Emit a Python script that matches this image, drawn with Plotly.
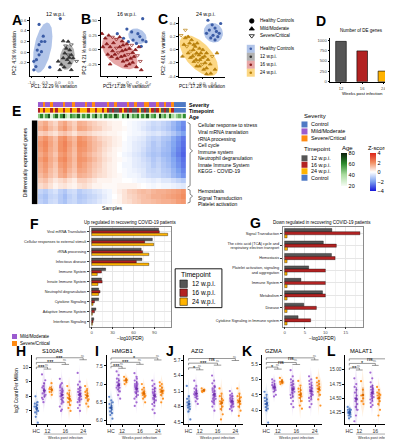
import numpy as np
import plotly.graph_objects as go

W, H = 393, 440
FONT = "Liberation Sans, Arial, Helvetica, sans-serif"

# ---------------- colours ----------------
C_HC_PT, C_12_PT, C_16_PT, C_24_PT = "#3B5CA6", "#333333", "#8B1C1C", "#B8800C"
F_HC, F_12, F_16, F_24 = ("rgba(130,162,220,0.62)", "rgba(125,125,125,0.6)",
                          "rgba(212,95,95,0.55)", "rgba(250,190,55,0.62)")
T12, T16, T24, TCTL = "#555555", "#B22222", "#FFB300", "#4E79C5"
S_CTL, S_MILD, S_SEV = "#4E79C5", "#9A5BCF", "#FF8A12"

# ---------------- data : PCA (A, B, C) ----------------
pca_a_hc_x = [-0.71, -0.62, -0.49, -0.55, -0.71, -0.78, -0.62, -0.71, -0.81, -0.91, -0.83, -0.91, -0.30, 0.10]
pca_a_hc_y = [0.52, 0.20, 0.20, 0.30, 0.14, 0.04, 0.01, -0.05, -0.14, -0.17, -0.27, -0.33, -0.28, 0.63]
pca_a_pt_x = [0.21, 0.40, 0.52, 0.33, 0.46, 0.27, 0.40, 0.52, 0.21, 0.36, 0.59, 0.72, 0.46, 0.14, 0.08, 0.52, 0.02, 0.30, 0.44, 0.25]
pca_a_pt_y = [0.21, 0.20, 0.14, 0.07, 0.04, -0.02, -0.05, -0.05, -0.11, -0.14, -0.11, -0.17, -0.20, -0.23, -0.33, -0.33, -0.17, 0.12, -0.10, -0.28]
pca_a_pt_sev = [0, 0, 1, 0, 0, 0, 1, 0, 0, 0, 0, 1, 0, 0, 0, 0, 0, 1, 0, 0]

pca_b_hc_x = [0.33, 0.00, 0.10, -0.20, 0.27, 0.33, 0.13, 0.03, 0.20, 0.40, 0.23, -0.07, 0.30]
pca_b_hc_y = [0.54, 0.36, 0.31, 0.28, 0.23, 0.17, 0.17, 0.14, 0.11, 0.14, 0.28, 0.20, 0.06]
pca_b_pt_x = [-0.45, -0.38, -0.30, -0.50, -0.42, -0.35, -0.28, -0.22, -0.15, -0.10, -0.30, -0.22, -0.15, -0.08, 0.00,
              -0.40, -0.32, -0.25, -0.18, -0.10, -0.03, 0.05, 0.10, -0.20, -0.12, -0.05, 0.03, 0.12, 0.18, -0.08,
              0.00, 0.08, 0.15, 0.22, -0.02, 0.05, 0.12, 0.20, 0.28, -0.52, 0.25, -0.35, 0.30]
pca_b_pt_y = [0.20, 0.25, 0.22, 0.05, 0.10, 0.05, 0.12, 0.18, 0.22, 0.15, -0.02, 0.03, 0.05, 0.08, 0.10,
              -0.08, -0.12, -0.08, -0.05, -0.02, 0.00, 0.02, 0.08, -0.15, -0.12, -0.10, -0.08, -0.05, 0.00, -0.20,
              -0.18, -0.15, -0.12, -0.10, -0.28, -0.25, -0.22, -0.30, -0.20, 0.28, 0.05, -0.25, -0.35]
pca_b_pt_sev = [0, 0, 1, 0, 0, 0, 0, 1, 0, 0, 0, 1, 0, 0, 0, 0, 0, 0, 1, 0, 0, 0, 1, 0, 0, 0, 1, 0, 0, 0,
                0, 0, 0, 1, 0, 0, 0, 0, 1, 0, 0, 0, 0]

pca_c_hc_x = [0.20, 0.35, 0.45, 0.25, 0.50, 0.15, 0.38, 0.55, 0.30, 0.45, 0.60, 0.65]
pca_c_hc_y = [0.45, 0.38, 0.33, 0.30, 0.28, 0.25, 0.22, 0.20, 0.18, 0.15, 0.25, 0.40]
pca_c_pt_x = [-0.75, -0.60, -0.50, -0.65, -0.55, -0.45, -0.38, -0.30, -0.50, -0.40, -0.32, -0.25, -0.18, -0.10, -0.42,
              -0.35, -0.28, -0.20, -0.12, -0.05, 0.02, -0.30, -0.22, -0.15, -0.08, 0.00, 0.08, 0.15, -0.20, -0.10,
              0.00, 0.10, 0.20, 0.05, 0.15, 0.28, 0.35, 0.45, 0.15, 0.30, -0.70, 0.52, -0.60]
pca_c_pt_y = [0.22, 0.18, 0.20, 0.08, 0.05, 0.10, 0.15, 0.08, -0.05, -0.02, 0.00, 0.05, 0.10, 0.02, -0.12,
              -0.10, -0.08, -0.05, -0.08, -0.05, 0.00, -0.18, -0.15, -0.18, -0.15, -0.12, -0.10, -0.05, -0.25, -0.25,
              -0.22, -0.20, -0.15, -0.30, -0.28, -0.22, -0.10, -0.30, -0.37, -0.36, -0.10, -0.05, 0.30]
pca_c_pt_sev = [1, 0, 0, 0, 1, 0, 0, 0, 0, 1, 0, 0, 0, 0, 0, 0, 1, 0, 0, 0, 0, 0, 0, 1, 0, 0, 0, 0, 0, 0,
                1, 0, 0, 0, 0, 0, 1, 0, 0, 0, 0, 0, 1]

# confidence ellipses: centre x, centre y, half-width, half-height, tilt
ell_a_hc = [-0.57, 0.085, 0.37, 0.47, 0.45]
ell_a_pt = [0.365, -0.095, 0.285, 0.235, 0.2]
ell_b_hc = [0.22, 0.235, 0.19, 0.135, -0.2]
ell_b_pt = [-0.15, -0.055, 0.37, 0.285, -0.5]
ell_c_hc = [0.39, 0.26, 0.34, 0.15, -0.1]
ell_c_pt = [-0.12, -0.09, 0.68, 0.31, -0.6]

# ---------------- data : D ----------------
de_weeks = ["12", "16", "24"]
de_counts = [975, 745, 255]

# ---------------- data : E heatmap ----------------
e_rows = [
    [1.2, 1.5, 1.0, 0.7, 1.3, 1.6, 1.1, 0.8, 1.4, 1.3, 1.0, 0.8, 0.6, 0.5, 0.3, 0.2, 0.2, 0.0, -0.1, -0.2, -0.3, -0.4, -0.6, -0.8, -0.7, -0.9, -1.1, -1.5, -1.9, -2.3],
    [1.4, 1.7, 1.2, 0.9, 1.5, 1.8, 1.3, 0.9, 1.6, 1.5, 1.2, 0.9, 0.8, 0.5, 0.4, 0.2, 0.2, 0.1, -0.1, -0.2, -0.3, -0.5, -0.7, -0.9, -0.8, -1.0, -1.2, -1.6, -2.0, -2.4],
    [0.8, 1.0, 0.7, 0.5, 0.9, 1.1, 0.8, 0.5, 0.9, 0.9, 0.7, 0.5, 0.4, 0.3, 0.2, 0.2, 0.1, 0.0, -0.1, -0.2, -0.2, -0.3, -0.5, -0.6, -0.5, -0.7, -0.9, -1.2, -1.6, -2.0],
    [1.6, 1.9, 1.5, 1.1, 1.8, 2.0, 1.5, 1.2, 1.9, 1.7, 1.4, 1.1, 0.8, 0.6, 0.5, 0.3, 0.2, 0.0, -0.2, -0.3, -0.4, -0.5, -0.8, -1.0, -0.9, -1.2, -1.3, -1.8, -2.2, -2.6],
    [1.8, 2.1, 1.6, 1.2, 1.9, 2.2, 1.7, 1.3, 2.0, 1.9, 1.5, 1.2, 1.0, 0.7, 0.5, 0.3, 0.2, -0.1, -0.2, -0.4, -0.5, -0.6, -0.9, -1.2, -1.0, -1.3, -1.5, -1.9, -2.3, -2.7],
    [1.7, 2.0, 1.5, 1.2, 1.9, 2.1, 1.6, 1.2, 1.9, 1.8, 1.5, 1.2, 0.9, 0.6, 0.4, 0.2, 0.1, -0.1, -0.2, -0.4, -0.5, -0.7, -1.0, -1.2, -1.1, -1.4, -1.5, -2.0, -2.4, -2.8],
    [1.5, 1.8, 1.4, 1.0, 1.7, 1.9, 1.5, 1.1, 1.8, 1.6, 1.3, 1.0, 0.8, 0.5, 0.3, 0.2, 0.0, -0.2, -0.3, -0.5, -0.6, -0.8, -1.1, -1.3, -1.2, -1.5, -1.6, -2.1, -2.5, -2.9],
    [1.7, 2.0, 1.5, 1.2, 1.9, 2.1, 1.6, 1.2, 1.9, 1.8, 1.5, 1.2, 0.9, 0.6, 0.4, 0.2, 0.1, -0.1, -0.2, -0.4, -0.5, -0.7, -0.9, -1.2, -1.0, -1.3, -1.5, -1.9, -2.3, -2.7],
    [1.5, 1.8, 1.4, 1.0, 1.7, 1.9, 1.5, 1.1, 1.8, 1.6, 1.3, 1.0, 0.8, 0.5, 0.3, 0.2, 0.0, -0.2, -0.2, -0.4, -0.5, -0.6, -0.8, -1.1, -0.9, -1.2, -1.4, -1.8, -2.2, -2.6],
    [1.4, 1.7, 1.2, 0.9, 1.5, 1.8, 1.3, 1.0, 1.6, 1.5, 1.2, 0.9, 0.7, 0.5, 0.3, 0.2, 0.0, -0.1, -0.2, -0.3, -0.4, -0.5, -0.8, -0.9, -0.8, -1.1, -1.2, -1.6, -2.0, -2.4],
    [1.2, 1.5, 1.1, 0.8, 1.4, 1.6, 1.1, 0.8, 1.4, 1.3, 1.1, 0.8, 0.6, 0.5, 0.3, 0.2, 0.1, -0.1, -0.2, -0.2, -0.3, -0.5, -0.7, -0.8, -0.8, -1.0, -1.1, -1.5, -1.8, -2.2],
    [0.9, 1.1, 0.7, 0.4, 0.6, 0.8, 0.5, 0.3, 0.8, 0.8, 0.6, 0.4, 0.2, 0.2, 0.2, 0.1, 0.1, 0.0, 0.0, -0.1, -0.2, -0.2, -0.3, -0.4, -0.3, -0.5, -0.5, -0.7, -0.9, -1.1],
    [0.6, 0.8, 0.5, 0.2, 0.4, 0.5, 0.3, 0.2, 0.5, 0.6, 0.4, 0.2, 0.2, 0.1, 0.1, 0.1, 0.2, 0.2, 0.2, 0.2, 0.1, 0.0, -0.1, -0.2, -0.1, -0.2, -0.2, -0.3, -0.4, -0.5],
    [-0.9, -1.1, -0.8, -0.6, -1.0, -1.2, -0.8, -0.7, -1.1, -0.9, -0.8, -0.6, -0.5, -0.3, -0.2, 0.1, 0.3, 0.5, 0.8, 0.9, 1.1, 1.2, 1.1, 1.3, 1.4, 1.4, 1.5, 1.6, 1.7, 1.9],
    [-1.1, -1.3, -0.9, -0.8, -1.1, -1.4, -1.0, -0.8, -1.2, -1.1, -0.9, -0.8, -0.6, -0.4, -0.2, 0.0, 0.2, 0.5, 0.7, 0.8, 1.0, 1.1, 1.2, 1.4, 1.4, 1.5, 1.6, 1.7, 1.8, 2.0],
    [-1.0, -1.2, -0.8, -0.7, -1.1, -1.3, -0.9, -0.8, -1.1, -1.0, -0.8, -0.7, -0.5, -0.3, -0.2, 0.1, 0.2, 0.5, 0.6, 0.8, 0.9, 1.1, 1.1, 1.2, 1.3, 1.4, 1.4, 1.5, 1.7, 1.8],
]
# sample annotations (0 control, 1 mild/moderate, 2 severe/critical) ; (0 12, 1 16, 2 24 w.p.i., 3 control)
e_severity = [1, 1, 2, 1, 1, 2, 1, 1, 1, 1, 2, 1, 1, 1, 2, 1, 1, 1, 1, 2, 1, 1, 2, 1, 1, 1, 1, 1, 2, 1,
              1, 2, 1, 1, 1, 1, 2, 1, 1, 2, 1, 1, 1, 2, 2, 1, 1, 1, 2, 1, 1, 2, 1, 1, 2, 0, 0, 0, 0, 0]
e_timepoint = [1, 2, 1, 2, 2, 1, 2, 1, 2, 2, 1, 2, 2, 1, 2, 2, 1, 2, 2, 2, 1, 2, 2, 1, 2, 2, 1, 2, 1, 0,
               1, 0, 0, 1, 2, 1, 0, 1, 0, 0, 1, 2, 0, 1, 0, 2, 1, 0, 1, 2, 0, 1, 0, 2, 1, 3, 3, 3, 3, 3]
e_age = [45, 62, 38, 55, 70, 28, 50, 66, 34, 58, 75, 42, 30, 60, 52, 48, 68, 36, 57, 44, 63, 29, 51, 72, 40, 55, 33, 65, 47, 58,
         39, 70, 53, 26, 61, 45, 77, 35, 56, 49, 64, 31, 58, 43, 69, 37, 52, 60, 27, 74, 46, 57, 33, 66, 41, 30, 45, 52, 38, 60]
e_up_terms = ["Cellular response to stress", "Viral mRNA translation", "rRNA processing", "Cell cycle",
              "Immune system", "Neutrophil degranulation", "Innate Immune System", "KEGG - COVID-19"]
e_down_terms = ["Hemostasis", "Signal Transduction", "Platelet activation"]

# ---------------- data : F / G ----------------
f_terms = ["Viral mRNA Translation", "Cellular responses to external stimuli", "rRNA processing", "Infectious disease",
           "Immune System", "Innate Immune System", "Neutrophil degranulation", "Cytokine Signaling",
           "Adaptive Immune System", "Interferon Signaling"]
f_12 = [96, 87, 71, 72, 20, 14, 10, 10, 6, 3]
f_16 = [97, 76, 73, 64, 14, 15, 12, 4, 4, 2]
f_24 = [109, 89, 82, 82, 8, 9, 10, 2, 1, 1]
g_terms = ["Signal Transduction", "The citric acid (TCA) cycle and<br>respiratory electron transport", "Hemostasis",
           "Platelet activation, signaling<br>and aggregation", "Immune System", "Metabolism", "Disease",
           "Cytokine Signaling in Immune system"]
g_12 = [11.6, 9.5, 11.5, 5.9, 4.0, 9.3, 4.7, 3.3]
g_16 = [18.5, 12.7, 12.4, 10.0, 10.0, 10.0, 7.8, 6.4]
g_24 = [0.6, 0.7, 0.6, 0.6, 0.6, 0.6, 0.6, 0.6]

# ---------------- data : H-L (log2 CPM) ----------------
s100a8_hc = [7.3, 7.1, 7.5, 7.2, 6.9, 7.4, 8.0, 7.6, 6.6, 6.2, 7.3, 7.0]
s100a8_12m = [9.5, 8.9, 8.6, 8.3, 8.2, 8.0, 7.8, 8.4, 8.7, 9.1, 7.6, 8.1, 8.5, 7.9]
s100a8_12s = [8.5, 8.9, 8.3, 8.1, 8.6, 8.4]
s100a8_16m = [9.2, 8.9, 8.7, 8.5, 8.4, 8.3, 8.2, 8.1, 8.0, 7.9, 7.8, 7.6, 7.5, 7.3, 7.1, 8.6, 8.3, 8.0, 7.7, 8.8, 8.4, 7.0]
s100a8_16s = [8.7, 8.4, 8.2, 8.0, 7.9, 7.8, 7.6, 7.4, 7.2, 7.0, 8.1, 7.7]
s100a8_24m = [9.6, 9.0, 8.8, 8.6, 8.5, 8.4, 8.3, 8.2, 8.1, 8.0, 7.9, 7.8, 7.7, 7.6, 7.4, 7.2, 7.0, 8.3, 8.0, 7.8, 8.6, 8.1]
s100a8_24s = [8.7, 8.5, 8.3, 8.2, 8.1, 8.0, 7.9, 7.7, 7.5, 7.3, 8.4, 7.8]

hmgb1_hc = [6.65, 6.55, 6.45, 6.4, 6.35, 6.3, 6.25, 6.2, 6.15, 6.05, 6.35, 6.5]
hmgb1_12m = [7.35, 7.25, 7.15, 7.1, 7.05, 7.0, 6.95, 6.9, 6.85, 6.8, 6.7, 6.6, 7.0, 6.9]
hmgb1_12s = [7.2, 7.15, 7.1, 7.05, 7.0, 7.12]
hmgb1_16m = [7.3, 7.2, 7.1, 7.05, 7.0, 6.95, 6.9, 6.88, 6.85, 6.8, 6.75, 6.7, 6.65, 6.6, 6.5, 6.4, 7.15, 6.95, 6.85, 6.78, 7.0, 6.92]
hmgb1_16s = [7.0, 6.9, 6.85, 6.8, 6.75, 6.72, 6.7, 6.65, 6.6, 6.5, 6.78, 6.68]
hmgb1_24m = [7.1, 7.0, 6.95, 6.9, 6.85, 6.8, 6.75, 6.72, 6.7, 6.65, 6.6, 6.55, 6.5, 6.45, 6.4, 6.3, 6.2, 6.78, 6.68, 6.62, 6.88, 6.58]
hmgb1_24s = [7.05, 7.0, 6.95, 6.9, 6.85, 6.8, 6.78, 6.75, 6.7, 6.6, 6.5, 6.82]

azi2_hc = [5.2, 5.0, 4.95, 4.9, 4.88, 4.85, 4.82, 4.8, 4.78, 4.75, 4.7, 4.55]
azi2_12m = [5.3, 5.2, 5.15, 5.1, 5.08, 5.05, 5.02, 5.0, 4.98, 4.95, 4.9, 4.85, 5.12, 5.04]
azi2_12s = [5.15, 5.12, 5.1, 5.1, 5.08, 5.13]
azi2_16m = [5.4, 5.3, 5.25, 5.2, 5.15, 5.1, 5.08, 5.05, 5.02, 5.0, 4.98, 4.95, 4.92, 4.9, 4.85, 4.8, 4.72, 5.12, 5.0, 4.95, 5.18, 4.88]
azi2_16s = [5.15, 5.05, 5.0, 4.95, 4.9, 4.88, 4.85, 4.8, 4.75, 4.65, 4.55, 4.92]
azi2_24m = [5.1, 5.05, 5.02, 5.0, 4.98, 4.95, 4.92, 4.9, 4.88, 4.85, 4.82, 4.8, 4.78, 4.75, 4.72, 4.95, 5.0, 4.9, 4.85, 4.92, 4.88, 4.8]
azi2_24s = [5.15, 5.05, 5.0, 4.95, 4.92, 4.9, 4.88, 4.85, 4.8, 4.72, 4.62, 4.98]

gzma_hc = [4.6, 4.5, 4.4, 4.35, 4.3, 4.25, 4.2, 4.15, 4.1, 4.05, 4.0, 3.6]
gzma_12m = [5.0, 4.95, 4.9, 4.85, 4.8, 4.78, 4.75, 4.72, 4.7, 4.65, 4.6, 4.5, 4.45, 4.82]
gzma_12s = [5.05, 4.98, 4.92, 4.88, 4.85, 4.9]
gzma_16m = [5.3, 5.1, 5.0, 4.95, 4.9, 4.85, 4.8, 4.75, 4.72, 4.7, 4.65, 4.6, 4.55, 4.5, 4.45, 4.4, 4.3, 4.2, 4.1, 4.82, 4.68, 4.58]
gzma_16s = [4.95, 4.8, 4.7, 4.65, 4.6, 4.55, 4.5, 4.45, 4.4, 4.3, 4.15, 4.05]
gzma_24m = [5.1, 5.0, 4.95, 4.9, 4.85, 4.8, 4.75, 4.7, 4.65, 4.6, 4.55, 4.5, 4.45, 4.4, 4.35, 4.3, 4.2, 4.1, 4.72, 4.62, 4.52, 4.68]
gzma_24s = [5.05, 4.95, 4.9, 4.85, 4.8, 4.75, 4.7, 4.65, 4.6, 4.5, 4.35, 4.15]

malat1_hc = [14.35, 14.32, 14.3, 14.28, 14.26, 14.25, 14.24, 14.22, 14.2, 14.18, 14.15, 14.3]
malat1_12m = [14.85, 14.75, 14.7, 14.65, 14.6, 14.55, 14.5, 14.48, 14.45, 14.4, 14.35, 14.3, 14.2, 14.1]
malat1_12s = [14.8, 14.65, 14.55, 14.5, 14.45, 14.4]
malat1_16m = [14.95, 14.85, 14.78, 14.72, 14.7, 14.68, 14.65, 14.62, 14.6, 14.58, 14.55, 14.52, 14.5, 14.48, 14.45, 14.42, 14.38, 14.35, 14.62, 14.57, 14.66, 14.53]
malat1_16s = [14.7, 14.65, 14.6, 14.58, 14.55, 14.52, 14.5, 14.45, 14.4, 14.3, 14.2, 14.56]
malat1_24m = [14.85, 14.75, 14.7, 14.65, 14.6, 14.58, 14.55, 14.52, 14.5, 14.48, 14.45, 14.42, 14.4, 14.38, 14.35, 14.3, 14.62, 14.5, 14.46, 14.56, 14.44, 14.52]
malat1_24s = [14.75, 14.68, 14.62, 14.6, 14.58, 14.55, 14.52, 14.5, 14.45, 14.4, 14.35, 14.3]

sig_s100a8 = ["***", "***", "***"]
sig_hmgb1 = ["***", "***", "*"]
sig_azi2 = ["*", "***", "ns"]
sig_gzma = ["*", "ns", "ns"]
sig_malat1 = ["**", "*", "ns"]
strip_ticks = ["HC", "12", "16", "24"]

# ====================================================================
fig = go.Figure()
LAY = {}
ANN = []
SHP = []


def axes(i, box):
    x0, x1, y0, y1 = box
    xk = "xaxis" if i == 1 else f"xaxis{i}"
    yk = "yaxis" if i == 1 else f"yaxis{i}"
    xr = "x" if i == 1 else f"x{i}"
    yr = "y" if i == 1 else f"y{i}"
    LAY[xk] = dict(domain=[x0 / W, x1 / W], anchor=yr)
    LAY[yk] = dict(domain=[1 - y1 / H, 1 - y0 / H], anchor=xr)
    return xk, yk, xr, yr


def txt(x, y, s, size=5, xa="center", ya="middle", color="#000", angle=0, bold=False, xref="x16", yref="y16"):
    ANN.append(dict(x=x, y=y, xref=xref, yref=yref, text=f"<b>{s}</b>" if bold else s, showarrow=False,
                    xanchor=xa, yanchor=ya, textangle=angle, font=dict(size=size, color=color, family=FONT)))


CL = dict(showline=True, linecolor="black", linewidth=0.6, ticks="outside", ticklen=2, tickwidth=0.5,
          tickcolor="black", showgrid=False, zeroline=False, tickfont=dict(size=4.2, color="#4D4D4D"))


def ellipse(p, n=80):
    cx, cy, sx, sy, rho = p
    t = np.linspace(0, 2 * np.pi, n)
    return cx + sx * np.cos(t), cy + sy * (rho * np.cos(t) + np.sqrt(1 - rho ** 2) * np.sin(t))


# ---------------- A, B, C ----------------
pca_panels = [
    (1, (20, 69, 9, 68), [-1.06, 0.8], [-0.44, 0.66], [-1.0, -0.5, 0.0, 0.5], ["-1.0", "-0.5", "0.0", "0.5"],
     [-0.2, 0.0, 0.2, 0.4, 0.6], ["-0.2", "0.0", "0.2", "0.4", "0.6"],
     pca_a_hc_x, pca_a_hc_y, pca_a_pt_x, pca_a_pt_y, pca_a_pt_sev, ell_a_hc, ell_a_pt, F_12, C_12_PT),
    (2, (91, 143, 9, 68), [-0.55, 0.53], [-0.45, 0.57], [-0.4, -0.2, 0.0, 0.2, 0.4], ["-0.4", "-0.2", "0.0", "0.2", "0.4"],
     [-0.25, 0.0, 0.25, 0.5], ["-0.25", "0.00", "0.25", "0.50"],
     pca_b_hc_x, pca_b_hc_y, pca_b_pt_x, pca_b_pt_y, pca_b_pt_sev, ell_b_hc, ell_b_pt, F_16, C_16_PT),
    (3, (170, 216, 9, 69), [-0.82, 0.8], [-0.41, 0.5], [-0.4, 0.0, 0.4], ["-0.4", "0.0", "0.4"],
     [-0.4, -0.2, 0.0, 0.2, 0.4], ["-0.4", "-0.2", "0.0", "0.2", "0.4"],
     pca_c_hc_x, pca_c_hc_y, pca_c_pt_x, pca_c_pt_y, pca_c_pt_sev, ell_c_hc, ell_c_pt, F_24, C_24_PT),
]
for (i, box, xrng, yrng, xtv, xtt, ytv, ytt, hx, hy, px, py, ps, ehc, ept, fcol, pcol) in pca_panels:
    xk, yk, xr, yr = axes(i, box)
    LAY[xk].update(CL, range=xrng, tickvals=xtv, ticktext=xtt)
    LAY[yk].update(CL, range=yrng, tickvals=ytv, ticktext=ytt)
    for ep, fc in ((ehc, F_HC), (ept, fcol)):
        ex, ey = ellipse(ep)
        fig.add_trace(go.Scatter(x=ex, y=ey, mode="lines", fill="toself", fillcolor=fc, line=dict(width=0),
                                 hoverinfo="skip", xaxis=xr, yaxis=yr))
    fig.add_trace(go.Scatter(x=hx, y=hy, mode="markers", marker=dict(symbol="circle", size=3.2, color=C_HC_PT),
                             xaxis=xr, yaxis=yr, hoverinfo="skip", cliponaxis=False))
    sym = ["triangle-down-open" if s else "triangle-up" for s in ps]
    fig.add_trace(go.Scatter(x=px, y=py, mode="markers",
                             marker=dict(symbol=sym, size=3.4, color=pcol, line=dict(width=0.7, color=pcol)),
                             xaxis=xr, yaxis=yr, hoverinfo="skip", cliponaxis=False))

# ---------------- D ----------------
xk, yk, xr, yr = axes(4, (322, 386, 30, 74))
fig.add_trace(go.Bar(x=de_weeks, y=de_counts, marker=dict(color=[T12, T16, T24], line=dict(color="black", width=0.6)),
                     width=0.5, xaxis=xr, yaxis=yr, hoverinfo="skip"))
LAY[xk].update(CL, type="category")
LAY[yk].update(CL, range=[0, 1060], tickvals=[0, 250, 500, 750, 1000])

# ---------------- E ----------------
Z_SCALE = [[0, "#1616D9"], [0.25, "#7EA2F0"], [0.5, "#FFFFFF"], [0.75, "#F28D60"], [1, "#DD2418"]]
AGE_SCALE = [[0, "#F5FCF3"], [0.35, "#A8DB9C"], [0.68, "#2C8A2C"], [1, "#0A1E0A"]]


def disc(cols):
    n = len(cols)
    cs = []
    for k, c in enumerate(cols):
        cs += [[k / n, c], [(k + 1) / n, c]]
    return cs


xk, yk, xr, yr = axes(5, (28, 177, 113, 197))
fig.add_trace(go.Heatmap(z=e_rows, zmin=-4, zmax=4, colorscale=Z_SCALE, xaxis=xr, yaxis=yr, hoverinfo="skip",
                         colorbar=dict(x=362 / W, xanchor="left", y=1 - 146 / H, yanchor="top", len=38,
                                       lenmode="pixels", thickness=6, thicknessmode="pixels", outlinewidth=0,
                                       xpad=0, ypad=0, tickvals=[-4, -2, 0, 2, 4], ticktext=["−4", "−2", "0", "2", "4"],
                                       tickfont=dict(size=5.5, family=FONT))))
LAY[xk].update(visible=False, range=[-0.5, len(e_rows[0]) - 0.5])
LAY[yk].update(visible=False, autorange="reversed")

bar_specs = [(6, (28, 177, 94.5, 99.5), e_severity, disc([S_CTL, S_MILD, S_SEV]), -0.5, 2.5),
             (7, (28, 177, 100.3, 105.3), e_timepoint, disc([T12, T16, T24, TCTL]), -0.5, 3.5)]
for i, box, vals, cs, lo, hi in bar_specs:
    xk, yk, xr, yr = axes(i, box)
    fig.add_trace(go.Heatmap(z=[vals], colorscale=cs, zmin=lo, zmax=hi, showscale=False, xaxis=xr, yaxis=yr,
                             hoverinfo="skip"))
    LAY[xk].update(visible=False, range=[-0.5, len(vals) - 0.5])
    LAY[yk].update(visible=False)
xk, yk, xr, yr = axes(8, (28, 177, 106.1, 111.1))
fig.add_trace(go.Heatmap(z=[e_age], colorscale=AGE_SCALE, zmin=20, zmax=80, xaxis=xr, yaxis=yr, hoverinfo="skip",
                         colorbar=dict(x=333 / W, xanchor="left", y=1 - 146 / H, yanchor="top", len=33,
                                       lenmode="pixels", thickness=6, thicknessmode="pixels", outlinewidth=0,
                                       xpad=0, ypad=0, tickvals=[20, 40, 60, 80],
                                       tickfont=dict(size=5.5, family=FONT))))
LAY[xk].update(visible=False, range=[-0.5, len(e_age) - 0.5])
LAY[yk].update(visible=False)

# ---------------- F, G ----------------
GRID = dict(showline=True, mirror=True, linecolor="#8C8C8C", linewidth=0.5, ticks="outside", ticklen=2,
            tickwidth=0.5, tickcolor="#333", showgrid=True, gridcolor="#E6E6E6", gridwidth=0.5, zeroline=False,
            tickfont=dict(size=4.3, color="#4D4D4D"))
for i, box, terms, v12, v16, v24, xrng, dt in [(9, (80, 162, 220, 320), f_terms, f_12, f_16, f_24, [-3, 114], 30),
                                               (10, (274, 355, 220, 320), g_terms, g_12, g_16, g_24, [-0.5, 19.3], 5)]:
    xk, yk, xr, yr = axes(i, box)
    for vals, col in ((v12, T12), (v16, T16), (v24, T24)):
        fig.add_trace(go.Bar(y=terms, x=vals, orientation="h", marker=dict(color=col, line=dict(color="black", width=0.35)),
                             xaxis=xr, yaxis=yr, hoverinfo="skip"))
    LAY[xk].update(GRID, range=xrng, dtick=dt, tick0=0,
                   minor=dict(showgrid=True, gridcolor="#F2F2F2", gridwidth=0.5, dtick=dt / 2, tick0=0))
    LAY[yk].update(GRID, type="category", categoryorder="array", categoryarray=terms, autorange="reversed",
                   tickfont=dict(size=3.8, color="#222"))

# ---------------- H - L ----------------
POS = [0.0, 1.0, 2.0, 3.4, 4.4, 5.8, 6.8]
PAIR = [(1.0, 2.0), (3.4, 4.4), (5.8, 6.8)]
GCOL = [S_CTL, S_MILD, S_SEV, S_MILD, S_SEV, S_MILD, S_SEV]
GDARK = ["#2C52A0", "#6E2FA8", "#D96A00", "#6E2FA8", "#D96A00", "#6E2FA8", "#D96A00"]
GFILL = ["rgba(78,121,197,0.13)", "rgba(154,91,207,0.13)", "rgba(255,138,18,0.13)",
         "rgba(154,91,207,0.13)", "rgba(255,138,18,0.13)", "rgba(154,91,207,0.13)", "rgba(255,138,18,0.13)"]
SY0, SY1 = 349, 418
genes = [
    (11, (22, 81, SY0, SY1), "H", "S100A8", (11, 30),
     [s100a8_hc, s100a8_12m, s100a8_12s, s100a8_16m, s100a8_16s, s100a8_24m, s100a8_24s],
     [6.1, 10.8], [7, 8, 9, 10], ["7", "8", "9", "10"], [10.0, 10.32, 10.64], sig_s100a8),
    (12, (97, 156, SY0, SY1), "I", "HMGB1", (87, 101),
     [hmgb1_hc, hmgb1_12m, hmgb1_12s, hmgb1_16m, hmgb1_16s, hmgb1_24m, hmgb1_24s],
     [5.9, 7.79], [6.0, 6.5, 7.0, 7.5], ["6.0", "6.5", "7.0", "7.5"], [7.49, 7.6, 7.72], sig_hmgb1),
    (13, (175, 234, SY0, SY1), "J", "AZI2", (161, 180),
     [azi2_hc, azi2_12m, azi2_12s, azi2_16m, azi2_16s, azi2_24m, azi2_24s],
     [4.46, 5.79], [4.5, 4.8, 5.1, 5.4, 5.7], ["4.5", "4.8", "5.1", "5.4", "5.7"], [5.55, 5.64, 5.73], sig_azi2),
    (14, (253, 314, SY0, SY1), "K", "GZMA", (238, 254),
     [gzma_hc, gzma_12m, gzma_12s, gzma_16m, gzma_16s, gzma_24m, gzma_24s],
     [3.55, 5.78], [4.0, 4.5, 5.0, 5.5], ["4.0", "4.5", "5.0", "5.5"], [5.4, 5.55, 5.7], sig_gzma),
    (15, (337, 390, SY0, SY1), "L", "MALAT1", (323, 340),
     [malat1_hc, malat1_12m, malat1_12s, malat1_16m, malat1_16s, malat1_24m, malat1_24s],
     [14.05, 15.25], [14.25, 14.5, 14.75, 15.0], ["14.25", "14.50", "14.75", "15.00"], [15.03, 15.11, 15.19], sig_malat1),
]
for i, box, letter, gname, (lx, gx), groups, yrng, ytv, ytt, lev, sig in genes:
    xk, yk, xr, yr = axes(i, box)
    LAY[xk].update(CL, range=[-0.6, 7.3], tickvals=[0, 1.5, 3.9, 6.3], ticktext=strip_ticks,
                   tickfont=dict(size=5.2, color="#333"))
    LAY[yk].update(CL, range=yrng, tickvals=ytv, ticktext=ytt, tickfont=dict(size=4.8, color="#333"))
    for g, vals in enumerate(groups):
        n = len(vals)
        fig.add_trace(go.Violin(x=[POS[g]] * n, y=vals, width=0.9, fillcolor=GFILL[g], line=dict(width=0),
                                points=False, hoverinfo="skip", xaxis=xr, yaxis=yr, spanmode="soft"))
        jit = [(((k * 7) % 13) - 6) * 0.04 for k in range(n)]
        fig.add_trace(go.Scatter(x=[POS[g] + j for j in jit], y=vals, mode="markers",
                                 marker=dict(size=2.2, color=GCOL[g], opacity=0.9), xaxis=xr, yaxis=yr,
                                 hoverinfo="skip"))
        fig.add_trace(go.Scatter(x=[POS[g] + 0.05], y=[float(np.mean(vals))], mode="markers",
                                 marker=dict(size=2.6, color=GDARK[g]),
                                 error_y=dict(type="data", array=[float(np.std(vals))], color=GDARK[g],
                                              thickness=0.7, width=0),
                                 xaxis=xr, yaxis=yr, hoverinfo="skip"))
    d = (yrng[1] - yrng[0]) / (SY1 - SY0) * 2.0
    for k, (a, b) in enumerate(PAIR):
        c = (a + b) / 2
        h = lev[k]
        for (x0, y0, x1, y1) in ((0, h, c, h), (0, h, 0, h - d), (c, h, c, h - d), (a, h - d, b, h - d)):
            SHP.append(dict(type="line", xref=xr, yref=yr, x0=x0, y0=y0, x1=x1, y1=y1,
                            line=dict(color="#555", width=0.6)))
        txt(c / 2, h, sig[k], size=5.5, ya="middle", xref=xr, yref=yr)
        txt(c, h - d, "ns", size=2.8, ya="bottom", color="#666", xref=xr, yref=yr)
    SHP.append(dict(type="line", xref=xr, yref=yr + " domain", x0=1.0, x1=6.8, y0=-0.145, y1=-0.145,
                    line=dict(color="#555", width=0.5)))
    txt(3.9, -0.205, "Weeks post infection", size=3.8, xref=xr, yref=yr + " domain", color="#333")
    txt(lx, 345, letter, size=14, bold=True)
    txt(gx, 345, gname, size=5.8, xa="left")

# ---------------- canvas overlay (legends, labels) ----------------
LAY["xaxis16"] = dict(domain=[0, 1], range=[0, W], visible=False, fixedrange=True)
LAY["yaxis16"] = dict(domain=[0, 1], range=[H, 0], visible=False, fixedrange=True)


def cmark(xs, ys, **m):
    fig.add_trace(go.Scatter(x=xs, y=ys, mode="markers", marker=m, xaxis="x16", yaxis="y16", hoverinfo="skip"))


# panel letters
for s, x, y in [("A", 7, 12), ("B", 76, 11), ("C", 154, 11), ("D", 313, 13), ("E", 7, 103), ("F", 25, 217), ("G", 247, 216)]:
    txt(x, y, s, size=14, bold=True)

# A-C titles
for s, x in [("12 w.p.i.", 46), ("16 w.p.i.", 117), ("24 w.p.i.", 196)]:
    txt(x, 6, s, size=5.3)
for s, x in [("PC1: 32.29 % variation", 45), ("PC1: 17.28 % variation", 117), ("PC1: 17.28 % variation", 193)]:
    txt(x, 79, s, size=4.5)
for s, x in [("PC2: 4.36 % variation", 5), ("PC2: 4.21 % variation", 75), ("PC2: 4.61 % variation", 155)]:
    txt(x, 45, s, size=4.5, angle=-90)

# PCA legends
cmark([243, 243, 243], [13, 21, 28], symbol=["circle", "triangle-up", "triangle-down-open"], size=4.5,
      color="black", line=dict(width=0.8, color="black"))
for s, y in [("Healthy Controls", 13), ("Mild/Moderate", 21), ("Severe/Critical", 28)]:
    txt(249, y, s, size=4.6, xa="left")
cmark([242] * 4, [41, 49, 57, 65], symbol="square", size=8, color=[F_HC, F_12, F_16, F_24], line=dict(width=0))
cmark([242] * 4, [41, 49, 57, 65], symbol="circle", size=2.6, color=[C_HC_PT, C_12_PT, C_16_PT, C_24_PT])
for s, y in [("Healthy Controls", 41), ("12 w.p.i.", 49), ("16 w.p.i.", 57), ("24 w.p.i.", 65)]:
    txt(249, y, s, size=4.6, xa="left")

# D texts
txt(353, 23, "Number of DE genes", size=4.5)
txt(354, 86, "Weeks post infection", size=4.4)

# E texts
txt(178, 97, "Severity", size=5.2, xa="left", bold=True)
txt(178, 103, "Timepoint", size=5.2, xa="left", bold=True)
txt(178, 109, "Age", size=5.2, xa="left", bold=True)
txt(15, 155, "Differentially expressed genes", size=5.2, angle=-90)
txt(103, 201, "Samples", size=5.2)
for s, y in zip(e_up_terms, [118, 125, 131.5, 138, 144.5, 151, 157.5, 164]):
    txt(187, y, s, size=5.0, xa="left")
for s, y in zip(e_down_terms, [184, 190.5, 197]):
    txt(187, y, s, size=5.0, xa="left")
SHP.append(dict(type="path", xref="x16", yref="y16", line=dict(color="#333", width=0.6),
                path="M 178.5 115 L 181 116.5 L 181 141.5 L 183.5 143.5 L 181 145.5 L 181 178.5 L 178.5 180"))
SHP.append(dict(type="path", xref="x16", yref="y16", line=dict(color="#333", width=0.6),
                path="M 178.5 182 L 181 183 L 181 187 L 183.5 189 L 181 191 L 181 195 L 178.5 196"))
SHP.append(dict(type="rect", xref="x16", yref="y16", x0=22, x1=27.5, y0=113, y1=197, fillcolor="black",
                line=dict(width=0)))
txt(293, 108, "Severity", size=6, xa="left")
cmark([296] * 3, [117, 124, 131], symbol="square", size=6, color=[S_CTL, S_MILD, S_SEV], line=dict(width=0))
for s, y in [("Control", 117), ("Mild/Moderate", 124), ("Severe/Critical", 131)]:
    txt(301, y, s, size=5.4, xa="left")
txt(293, 142, "Timepoint", size=6, xa="left")
cmark([296] * 4, [151, 157.5, 164, 170.5], symbol="square", size=6, color=[T12, T16, T24, TCTL], line=dict(width=0))
for s, y in [("12 w.p.i.", 151), ("16 w.p.i.", 157.5), ("24 w.p.i.", 164), ("Control", 170.5)]:
    txt(301, y, s, size=5.4, xa="left")
txt(332, 141, "Age", size=6, xa="left")
txt(358, 141, "Z-score", size=5.8, xa="left")

# F / G texts
txt(121, 215.5, "Up regulated in recovering COVID-19 patients", size=4.5)
txt(314, 215.5, "Down regulated in recovering COVID-19 patients", size=4.5)
txt(121, 332, "−log10(FDR)", size=4.6)
txt(314, 332, "−log10(FDR)", size=4.6)
SHP.append(dict(type="rect", xref="x16", yref="y16", x0=166, x1=213, y0=262, y1=301, line=dict(color="black", width=0.9)))
txt(170, 268, "Timepoint", size=6.8, xa="left")
cmark([174.5] * 3, [277, 286, 295], symbol="square", size=7.5, color=[T12, T16, T24], line=dict(width=0.5, color="black"))
for s, y in [("12 w.p.i.", 277), ("16 w.p.i.", 286), ("24 w.p.i.", 295)]:
    txt(181, y, s, size=6.4, xa="left")

# H-L legend and y title
cmark([4.5, 4.5], [330, 337], symbol="square", size=5, color=[S_MILD, S_SEV], line=dict(width=0))
txt(8.5, 330, "Mild/Moderate", size=4.6, xa="left")
txt(8.5, 337, "Severe/Critical", size=4.6, xa="left")
txt(6, 384, "log2 Count Per Million", size=4.6, angle=-90)

fig.update_layout(width=W, height=H, margin=dict(l=0, r=0, t=0, b=0), paper_bgcolor="white",
                  plot_bgcolor="rgba(0,0,0,0)", showlegend=False, font=dict(family=FONT, color="black"),
                  barmode="group", bargap=0.25, bargroupgap=0, violinmode="overlay", violingap=0,
                  annotations=ANN, shapes=SHP, **LAY)
fig.write_html("out.html", config={"displayModeBar": False})
